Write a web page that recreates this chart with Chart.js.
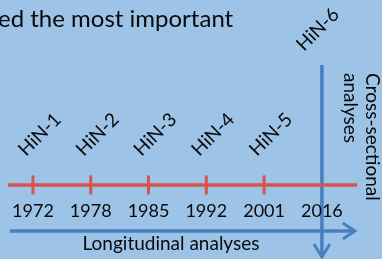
<!DOCTYPE html>
<html>
<head>
<meta charset="utf-8">
<script src="https://cdn.jsdelivr.net/npm/chart.js@4/dist/chart.umd.min.js"></script>
<style>
  html, body { margin: 0; padding: 0; background: #9DC3E6; overflow: hidden; }
  #wrap { width: 382px; height: 259px; }
</style>
</head>
<body>
<div id="wrap"><canvas id="timeline" width="382" height="259"></canvas></div>
<script>
// Survey years and wave names
const years = ["1972", "1978", "1985", "1992", "2001", "2016"];
const waves = ["HiN-1", "HiN-2", "HiN-3", "HiN-4", "HiN-5", "HiN-6"];
const titleText = "ed the most important";
const longLabel = "Longitudinal analyses";
const crossLabel = ["Cross-sectional", "analyses"];

// layout (data units on the hidden axes)
const RED = "#DA5250";
const BLUE = "#4A7EC2";
const TIMELINE_Y = 28.6;
const LONG_Y = 10.8;
const CROSS_TOP = 74.9;
const CROSS_BOTTOM = 0.8;
const LINE_START = -0.43;
const LINE_END = 5.61;
const ARROW_START = -0.4;
const ARROW_END = 5.57;
const lastIdx = years.length - 1;

const overlay = {
    id: "overlay",
    afterDatasetsDraw(chart) {
        const ctx = chart.ctx;
        const xs = chart.scales.x;
        const ys = chart.scales.y;
        ctx.save();

        // arrow heads
        ctx.strokeStyle = BLUE;
        ctx.lineWidth = 3;
        ctx.lineJoin = "miter";
        const hx = xs.getPixelForValue(ARROW_END);
        const hy = ys.getPixelForValue(LONG_Y);
        ctx.beginPath();
        ctx.moveTo(hx - 12, hy - 8);
        ctx.lineTo(hx, hy);
        ctx.lineTo(hx - 12, hy + 8);
        ctx.stroke();
        const vx = xs.getPixelForValue(lastIdx);
        const vy = ys.getPixelForValue(CROSS_BOTTOM);
        ctx.beginPath();
        ctx.moveTo(vx - 8, vy - 13);
        ctx.lineTo(vx, vy);
        ctx.lineTo(vx + 8, vy - 13);
        ctx.stroke();

        ctx.fillStyle = "#0a0a0a";
        // title (cut off at the left)
        ctx.font = "24px Lato";
        ctx.textAlign = "left";
        ctx.textBaseline = "alphabetic";
        ctx.fillText(titleText, -2, 27);

        // year labels
        ctx.font = "18px Lato";
        ctx.textAlign = "center";
        const ty = ys.getPixelForValue(TIMELINE_Y);
        years.forEach((y, i) => {
            ctx.fillText(y, xs.getPixelForValue(i), ty + 32);
        });

        // wave labels, tilted
        ctx.font = "19px Lato";
        ctx.textAlign = "left";
        waves.forEach((w, i) => {
            const px = xs.getPixelForValue(i);
            ctx.save();
            if (i === lastIdx) {
                ctx.translate(px - 18, 52);
            } else {
                ctx.translate(px - 7, 157);
            }
            ctx.rotate(-Math.PI / 4);
            ctx.fillText(w, 0, 0);
            ctx.restore();
        });

        // longitudinal label
        ctx.font = "19px Lato";
        ctx.textAlign = "center";
        ctx.fillText(longLabel, 171, 250);

        // cross-sectional label, reading downwards
        ctx.textAlign = "left";
        const topY = ys.getPixelForValue(CROSS_TOP) + 8;
        ctx.save();
        ctx.translate(366, topY);
        ctx.rotate(Math.PI / 2);
        ctx.fillText(crossLabel[0], 0, 0);
        ctx.restore();
        ctx.save();
        ctx.translate(344, topY);
        ctx.rotate(Math.PI / 2);
        ctx.fillText(crossLabel[1], 0, 0);
        ctx.restore();

        ctx.restore();
    }
};

new Chart(document.getElementById("timeline"), {
    type: "line",
    data: {
        datasets: [
            {
                // red timeline
                data: [{ x: LINE_START, y: TIMELINE_Y }, { x: LINE_END, y: TIMELINE_Y }],
                borderColor: RED,
                borderWidth: 3.5,
                pointRadius: 0
            },
            {
                // tick marks for each survey wave
                data: years.slice(0, lastIdx).map((_, i) => ({ x: i, y: TIMELINE_Y })),
                showLine: false,
                pointStyle: "line",
                rotation: 90,
                pointRadius: 9.5,
                pointBorderWidth: 3,
                pointBorderColor: RED,
                borderColor: RED
            },
            {
                // longitudinal arrow
                data: [{ x: ARROW_START, y: LONG_Y }, { x: ARROW_END, y: LONG_Y }],
                borderColor: BLUE,
                borderWidth: 3.5,
                pointRadius: 0
            },
            {
                // cross-sectional arrow at the last wave
                data: [{ x: lastIdx, y: CROSS_TOP }, { x: lastIdx, y: CROSS_BOTTOM }],
                borderColor: BLUE,
                borderWidth: 3.5,
                pointRadius: 0
            }
        ]
    },
    options: {
        responsive: false,
        animation: false,
        devicePixelRatio: 1,
        layout: { padding: 0, autoPadding: false },
        scales: {
            x: { type: "linear", min: -0.57, max: 6.04, display: false },
            y: { type: "linear", min: 0, max: 100, display: false }
        },
        plugins: {
            legend: { display: false },
            tooltip: { enabled: false }
        }
    },
    plugins: [overlay]
});
</script>
</body>
</html>
